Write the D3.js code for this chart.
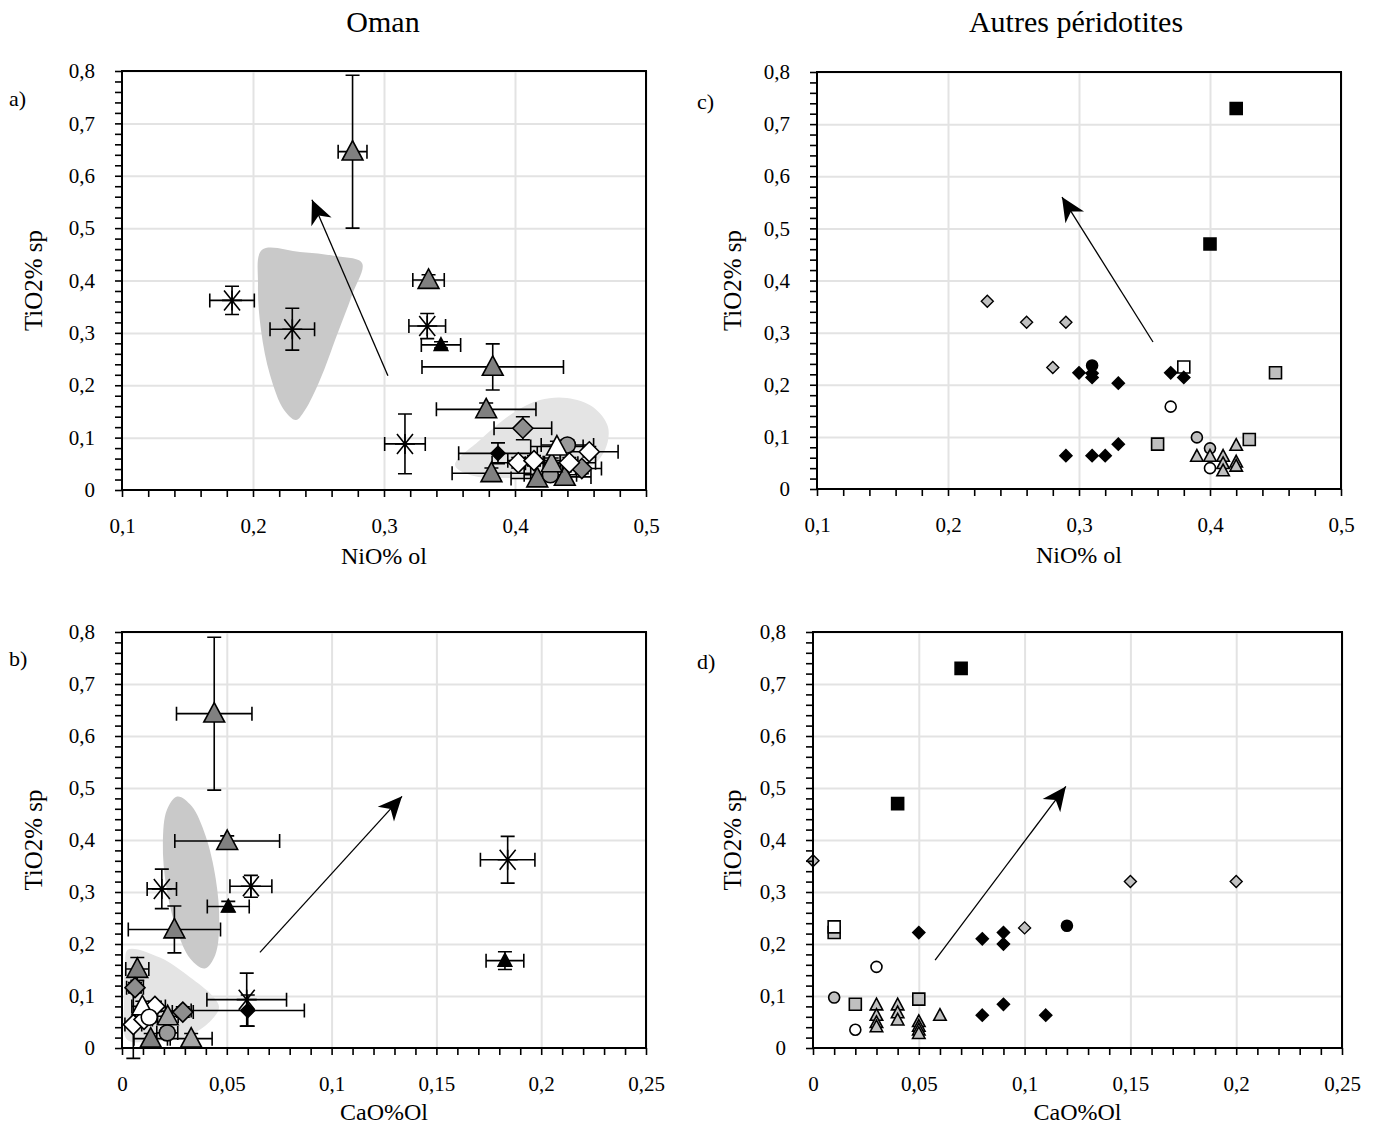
<!DOCTYPE html>
<html><head><meta charset="utf-8">
<script src="https://cdn.jsdelivr.net/npm/d3@7"></script>
<style>
body{margin:0;background:#fff}
svg{display:block}
text{font-family:'Liberation Serif','Times New Roman',serif;fill:#000}
</style>
</head><body>
<svg id="chart" width="1379" height="1129"></svg>
<script>
// ================= DATA =================
const yTickValues = [0, 0.1, 0.2, 0.3, 0.4, 0.5, 0.6, 0.7, 0.8];
const yTickLabels = ["0", "0,1", "0,2", "0,3", "0,4", "0,5", "0,6", "0,7", "0,8"];
const nioTickValues = [0.1, 0.2, 0.3, 0.4, 0.5];
const nioTickLabels = ["0,1", "0,2", "0,3", "0,4", "0,5"];
const caoTickValues = [0, 0.05, 0.1, 0.15, 0.2, 0.25];
const caoTickLabels = ["0", "0,05", "0,1", "0,15", "0,2", "0,25"];

// Oman, NiO% ol vs TiO2% sp : [x, y, xErr, yErr]
const omanNiO_darkTri = [[0.276,0.646,0.011,0.146],[0.334,0.401,0.012,0.01],[0.383,0.235,0.054,0.044],[0.378,0.154,0.038,0.012],[0.382,0.032,0.03,0.01],[0.417,0.022,0.02,0.008],[0.438,0.025,0.02,0.01]];
const omanNiO_blackTri = [[0.3435,0.277,0.015,0.006]];
const omanNiO_star = [[0.184,0.362,0.017,0.027],[0.230,0.307,0.017,0.040],[0.333,0.313,0.014,0.024],[0.316,0.088,0.0155,0.057]];
const omanNiO_grayDiamond = [[0.406,0.118,0.022,0.022],[0.451,0.041,0.015,0.01]];
const omanNiO_blackDiamond = [[0.387,0.070,0.03,0.02]];
const omanNiO_grayCircle = [[0.440,0.086,0.02,0.01],[0.427,0.029,0.02,0.01]];
const omanNiO_lightTri = [[0.428,0.051,0.02,0.01]];
const omanNiO_whiteTri = [[0.432,0.083,0.02,0.01]];
const omanNiO_whiteDiamond = [[0.4025,0.052,0.02,0.01],[0.4145,0.056,0.02,0.01],[0.4415,0.052,0.02,0.01],[0.4567,0.073,0.022,0.01]];

// Oman, CaO%Ol vs TiO2% sp : [x, y, xErr, yErr]
const omanCaO_darkTri = [[0.044,0.643,0.018,0.147],[0.0502,0.398,0.025,0.01],[0.025,0.228,0.022,0.045],[0.0073,0.152,0.0055,0.022],[0.0137,0.018,0.008,0.01]];
const omanCaO_blackTri = [[0.0507,0.272,0.01,0.01],[0.1827,0.168,0.009,0.017]];
const omanCaO_star = [[0.019,0.306,0.007,0.038],[0.0615,0.311,0.01,0.021],[0.184,0.362,0.013,0.045],[0.0595,0.093,0.019,0.051]];
const omanCaO_grayDiamond = [[0.0062,0.116,0.004,0.01],[0.029,0.069,0.005,0.01]];
const omanCaO_blackDiamond = [[0.060,0.072,0.027,0.03]];
const omanCaO_grayCircle = [[0.0216,0.029,0.005,0.01]];
const omanCaO_lightTri = [[0.033,0.018,0.01,0.01],[0.0218,0.061,0.005,0.01]];
const omanCaO_whiteTri = [[0.0097,0.080,0.005,0.01]];
const omanCaO_whiteDiamond = [[0.0157,0.080,0.005,0.01],[0.0054,0.045,0.004,0.065],[0.0105,0.055,0.004,0.01]];
const omanCaO_whiteCircle = [[0.013,0.059,0.004,0.01]];

// Autres péridotites, NiO% ol vs TiO2% sp : [x, y]
const otherNiO_blackSquare = [[0.42,0.73],[0.40,0.47]];
const otherNiO_grayDiamond = [[0.23,0.36],[0.26,0.32],[0.29,0.32],[0.28,0.233]];
const otherNiO_blackCircle = [[0.31,0.237]];
const otherNiO_blackDiamond = [[0.30,0.223],[0.31,0.222],[0.31,0.214],[0.33,0.203],[0.37,0.223],[0.38,0.214],[0.29,0.064],[0.31,0.064],[0.32,0.064],[0.33,0.086]];
const otherNiO_whiteSquare = [[0.38,0.234]];
const otherNiO_graySquare = [[0.45,0.223],[0.36,0.086],[0.43,0.095]];
const otherNiO_whiteCircle = [[0.37,0.158],[0.40,0.04]];
const otherNiO_grayCircle = [[0.39,0.099],[0.40,0.078]];
const otherNiO_grayTri = [[0.39,0.063],[0.40,0.063],[0.41,0.063],[0.41,0.049],[0.41,0.035],[0.42,0.084],[0.42,0.052],[0.42,0.044]];

// Autres péridotites, CaO%Ol vs TiO2% sp : [x, y]
const otherCaO_blackSquare = [[0.07,0.73],[0.04,0.47]];
const otherCaO_grayDiamond = [[0,0.36],[0.15,0.32],[0.20,0.32],[0.10,0.231]];
const otherCaO_blackCircle = [[0.12,0.235]];
const otherCaO_blackDiamond = [[0.05,0.222],[0.08,0.21],[0.09,0.222],[0.09,0.20],[0.08,0.063],[0.09,0.084],[0.11,0.063]];
const otherCaO_graySquare = [[0.01,0.222],[0.02,0.084],[0.05,0.094]];
const otherCaO_whiteSquare = [[0.01,0.233]];
const otherCaO_whiteCircle = [[0.03,0.156],[0.02,0.035]];
const otherCaO_grayCircle = [[0.01,0.097]];
const otherCaO_grayTri = [[0.03,0.083],[0.03,0.063],[0.03,0.049],[0.03,0.041],[0.04,0.083],[0.04,0.068],[0.04,0.054],[0.05,0.051],[0.05,0.042],[0.05,0.035],[0.05,0.028],[0.06,0.063]];

// Shaded fields (outline vertices, data units)
const fieldA_dark = [[0.2069,0.4585],[0.2359,0.4546],[0.2626,0.447],[0.2832,0.4336],[0.2756,0.3725],[0.2641,0.2961],[0.2511,0.2101],[0.2397,0.1528],[0.2328,0.1337],[0.2237,0.1528],[0.2130,0.2197],[0.2061,0.3056],[0.2038,0.3916]];
const fieldA_light = [[0.3542,0.0478],[0.3733,0.0955],[0.3985,0.1471],[0.4191,0.1719],[0.4397,0.1757],[0.4595,0.1585],[0.4710,0.1203],[0.4687,0.0764],[0.4573,0.0439],[0.4344,0.0287],[0.3962,0.0229],[0.3656,0.0287]];
const fieldB_dark = [[0.0395,0.1531],[0.0445,0.1790],[0.0464,0.2421],[0.0447,0.3258],[0.0399,0.4075],[0.0332,0.4652],[0.0264,0.4835],[0.0214,0.4575],[0.0195,0.3944],[0.0211,0.3108],[0.0260,0.2290],[0.0327,0.1713]];
const fieldB_light = [[0.0029,0.1894],[0.0181,0.1740],[0.0339,0.1317],[0.0434,0.0990],[0.0463,0.0779],[0.0420,0.0510],[0.0310,0.0221],[0.0134,0.0125],[0.0024,0.0163],[0.0010,0.0933],[0.0014,0.1606]];

// Trend arrows: [start, tip]
const arrowA = [[0.303,0.218],[0.245,0.554]];
const arrowB = [[0.0658,0.184],[0.1336,0.484]];
const arrowC = [[0.3565,0.282],[0.287,0.560]];
const arrowD = [[0.0577,0.169],[0.1195,0.503]];

// ================= DRAW =================
const svg = d3.select("#chart");
svg.append("rect").attr("width",1379).attr("height",1129).attr("fill","#fff");

const GRID = "#e3e3e3";

function markerPath(shape, s) {
  if (shape === "tri") return `M0,${-s*0.55}L${s*0.52},${s*0.42}L${-s*0.52},${s*0.42}Z`;
  if (shape === "dia") return `M0,${-s/2}L${s/2},0L0,${s/2}L${-s/2},0Z`;
  if (shape === "sq") return `M${-s/2},${-s/2}H${s/2}V${s/2}H${-s/2}Z`;
  if (shape === "circ") return d3.symbol(d3.symbolCircle, Math.PI*(s/2)*(s/2))();
  if (shape === "star") {
    const a = s/2;
    return `M0,${-a}V${a}M${-a*0.8},${-a}L${a*0.8},${a}M${a*0.8},${-a}L${-a*0.8},${a}M${-a},0H${a}`;
  }
}

function panel(cfg) {
  const x = d3.scaleLinear().domain(cfg.xDomain).range([cfg.left, cfg.right]);
  const y = d3.scaleLinear().domain([0, 0.8]).range([cfg.bottom, cfg.top]);
  const g = svg.append("g");
  const w = cfg.right - cfg.left, h = cfg.bottom - cfg.top;

  // gridlines
  g.append("g").attr("transform",`translate(${cfg.left},0)`)
    .call(d3.axisLeft(y).tickValues(yTickValues.slice(1)).tickSize(-w).tickFormat(""))
    .call(s => { s.select(".domain").remove(); s.selectAll("line").attr("stroke",GRID).attr("stroke-width",2); });
  g.append("g").attr("transform",`translate(0,${cfg.bottom})`)
    .call(d3.axisBottom(x).tickValues(cfg.xTicks.slice(1)).tickSize(-h).tickFormat(""))
    .call(s => { s.select(".domain").remove(); s.selectAll("line").attr("stroke",GRID).attr("stroke-width",2); });

  // fields
  const line = d3.line().x(d=>x(d[0])).y(d=>y(d[1])).curve(d3.curveCatmullRomClosed.alpha(0.5));
  (cfg.fields||[]).forEach(f => {
    g.append("path").attr("d", line(f.pts)).attr("fill", f.color).attr("stroke","none");
  });

  // arrow
  if (cfg.arrow) {
    const [p0, p1] = cfg.arrow;
    const x0 = x(p0[0]), y0 = y(p0[1]), x1 = x(p1[0]), y1 = y(p1[1]);
    const ang = Math.atan2(y1-y0, x1-x0) * 180 / Math.PI;
    g.append("line").attr("x1",x0).attr("y1",y0).attr("x2",x1).attr("y2",y1)
      .attr("stroke","#000").attr("stroke-width",1.3);
    g.append("path").attr("d","M0,0L-24,-11L-17,0L-24,11Z")
      .attr("transform",`translate(${x1},${y1}) rotate(${ang})`).attr("fill","#000");
  }

  // error bars
  const eb = g.append("g").attr("stroke","#000").attr("stroke-width",1.6).attr("fill","none");
  cfg.series.forEach(sr => {
    sr.data.forEach(d => {
      if (d.length < 4) return;
      const cx = x(d[0]), cy = y(d[1]);
      const xl = x(d[0]-d[2]), xr = x(d[0]+d[2]);
      const yt = y(d[1]+d[3]), yb = y(d[1]-d[3]);
      const c = 7;
      eb.append("path").attr("d",
        `M${xl},${cy}H${xr}M${xl},${cy-c}V${cy+c}M${xr},${cy-c}V${cy+c}` +
        `M${cx},${yt}V${yb}M${cx-c},${yt}H${cx+c}M${cx-c},${yb}H${cx+c}`);
    });
  });

  // markers
  cfg.series.forEach(sr => {
    g.append("g").selectAll("path").data(sr.data).join("path")
      .attr("d", markerPath(sr.shape, sr.size))
      .attr("transform", d => `translate(${x(d[0])},${y(d[1])})`)
      .attr("fill", sr.shape === "star" ? "none" : sr.fill)
      .attr("stroke", "#000")
      .attr("stroke-width", sr.sw || 1.6);
  });

  // frame
  g.append("rect").attr("x",cfg.left).attr("y",cfg.top).attr("width",w).attr("height",h)
    .attr("fill","none").attr("stroke","#000").attr("stroke-width",2);

  // minor ticks
  const yMinor = d3.range(0, 41).map(i => i*0.02);
  g.append("g").attr("transform",`translate(${cfg.left},0)`)
    .call(d3.axisLeft(y).tickValues(yMinor).tickSize(7).tickFormat(""))
    .call(s => { s.select(".domain").remove(); s.selectAll("line").attr("stroke","#000").attr("stroke-width",1.6); });
  const nx = Math.round((cfg.xDomain[1]-cfg.xDomain[0]) / cfg.xMinor);
  const xMinor = d3.range(0, nx+1).map(i => cfg.xDomain[0] + i*cfg.xMinor);
  g.append("g").attr("transform",`translate(0,${cfg.bottom})`)
    .call(d3.axisBottom(x).tickValues(xMinor).tickSize(7).tickFormat(""))
    .call(s => { s.select(".domain").remove(); s.selectAll("line").attr("stroke","#000").attr("stroke-width",1.6); });

  // tick labels
  g.append("g").attr("transform",`translate(${cfg.left},0)`)
    .call(d3.axisLeft(y).tickValues(yTickValues).tickSize(0).tickPadding(27).tickFormat((d,i)=>yTickLabels[i]))
    .call(s => { s.select(".domain").remove(); s.selectAll("text").attr("font-size",21).attr("font-family","'Liberation Serif',serif").attr("fill","#000"); });
  g.append("g").attr("transform",`translate(0,${cfg.bottom})`)
    .call(d3.axisBottom(x).tickValues(cfg.xTicks).tickSize(0).tickPadding(28).tickFormat((d,i)=>cfg.xLabels[i]))
    .call(s => { s.select(".domain").remove(); s.selectAll("text").attr("font-size",21).attr("font-family","'Liberation Serif',serif").attr("fill","#000"); });

  // axis titles
  g.append("text").attr("x",(cfg.left+cfg.right)/2).attr("y",cfg.bottom+cfg.xTitleOff)
    .attr("text-anchor","middle").attr("font-size",24).text(cfg.xTitle);
  g.append("text").attr("transform",`translate(${cfg.yTitleX},${(cfg.top+cfg.bottom)/2}) rotate(-90)`)
    .attr("text-anchor","middle").attr("dy","0.35em").attr("font-size",25).text("TiO2% sp");
  g.append("text").attr("x",cfg.letterX).attr("y",cfg.letterY).attr("font-size",22).text(cfg.letter);
}

const DARK = "#808080", LIGHT = "#a6a6a6", GDIA = "#8e8e8e", GCIRC = "#9a9a9a", PALE = "#c0c0c0";

panel({
  left:122, right:646, top:71, bottom:490, xDomain:[0.1,0.5], xTicks:nioTickValues, xLabels:nioTickLabels, xMinor:0.02,
  xTitle:"NiO% ol", xTitleOff:74, yTitleX:33, letter:"a)", letterX:9, letterY:106,
  fields:[{pts:fieldA_dark,color:"#c9c9c9"},{pts:fieldA_light,color:"#e4e4e4"}],
  arrow: arrowA,
  series:[
    {data:omanNiO_star, shape:"star", size:20},
    {data:omanNiO_darkTri, shape:"tri", size:20, fill:DARK},
    {data:omanNiO_blackTri, shape:"tri", size:13, fill:"#000"},
    {data:omanNiO_grayDiamond, shape:"dia", size:20, fill:GDIA},
    {data:omanNiO_blackDiamond, shape:"dia", size:14, fill:"#000"},
    {data:omanNiO_grayCircle, shape:"circ", size:16, fill:GCIRC},
    {data:omanNiO_lightTri, shape:"tri", size:20, fill:LIGHT},
    {data:omanNiO_whiteTri, shape:"tri", size:20, fill:"#fff"},
    {data:omanNiO_whiteDiamond, shape:"dia", size:20, fill:"#fff"}
  ]
});

panel({
  left:122, right:646, top:632, bottom:1048, xDomain:[0,0.25], xTicks:caoTickValues, xLabels:caoTickLabels, xMinor:0.01,
  xTitle:"CaO%Ol", xTitleOff:72, yTitleX:33, letter:"b)", letterX:9, letterY:666,
  fields:[{pts:fieldB_dark,color:"#c9c9c9"},{pts:fieldB_light,color:"#e4e4e4"}],
  arrow: arrowB,
  series:[
    {data:omanCaO_star, shape:"star", size:20},
    {data:omanCaO_darkTri, shape:"tri", size:20, fill:DARK},
    {data:omanCaO_blackTri, shape:"tri", size:13, fill:"#000"},
    {data:omanCaO_grayDiamond, shape:"dia", size:20, fill:GDIA},
    {data:omanCaO_blackDiamond, shape:"dia", size:14, fill:"#000"},
    {data:omanCaO_grayCircle, shape:"circ", size:16, fill:GCIRC},
    {data:omanCaO_lightTri, shape:"tri", size:20, fill:LIGHT},
    {data:omanCaO_whiteDiamond, shape:"dia", size:20, fill:"#fff"},
    {data:omanCaO_whiteTri, shape:"tri", size:20, fill:"#fff"},
    {data:omanCaO_whiteCircle, shape:"circ", size:16, fill:"#fff"}
  ]
});

panel({
  left:817, right:1341, top:72, bottom:489, xDomain:[0.1,0.5], xTicks:nioTickValues, xLabels:nioTickLabels, xMinor:0.02,
  xTitle:"NiO% ol", xTitleOff:74, yTitleX:732, letter:"c)", letterX:697, letterY:109,
  arrow: arrowC,
  series:[
    {data:otherNiO_blackSquare, shape:"sq", size:12, fill:"#000"},
    {data:otherNiO_grayDiamond, shape:"dia", size:12, fill:PALE, sw:1.4},
    {data:otherNiO_whiteSquare, shape:"sq", size:12, fill:"#fff"},
    {data:otherNiO_blackCircle, shape:"circ", size:11, fill:"#000"},
    {data:otherNiO_blackDiamond, shape:"dia", size:12, fill:"#000"},
    {data:otherNiO_graySquare, shape:"sq", size:12, fill:PALE},
    {data:otherNiO_whiteCircle, shape:"circ", size:11, fill:"#fff"},
    {data:otherNiO_grayCircle, shape:"circ", size:11, fill:PALE},
    {data:otherNiO_grayTri, shape:"tri", size:12, fill:PALE}
  ]
});

panel({
  left:813, right:1342, top:632, bottom:1048, xDomain:[0,0.25], xTicks:caoTickValues, xLabels:caoTickLabels, xMinor:0.01,
  xTitle:"CaO%Ol", xTitleOff:72, yTitleX:732, letter:"d)", letterX:697, letterY:669,
  arrow: arrowD,
  series:[
    {data:otherCaO_blackSquare, shape:"sq", size:12, fill:"#000"},
    {data:otherCaO_grayDiamond, shape:"dia", size:12, fill:PALE, sw:1.4},
    {data:otherCaO_graySquare, shape:"sq", size:12, fill:PALE},
    {data:otherCaO_whiteSquare, shape:"sq", size:12, fill:"#fff"},
    {data:otherCaO_blackCircle, shape:"circ", size:11, fill:"#000"},
    {data:otherCaO_blackDiamond, shape:"dia", size:12, fill:"#000"},
    {data:otherCaO_whiteCircle, shape:"circ", size:11, fill:"#fff"},
    {data:otherCaO_grayCircle, shape:"circ", size:11, fill:PALE},
    {data:otherCaO_grayTri, shape:"tri", size:12, fill:PALE}
  ]
});

// column titles
svg.append("text").attr("x",383).attr("y",32).attr("text-anchor","middle").attr("font-size",30).text("Oman");
svg.append("text").attr("x",1076).attr("y",32).attr("text-anchor","middle").attr("font-size",30).text("Autres péridotites");
</script>
</body></html>
